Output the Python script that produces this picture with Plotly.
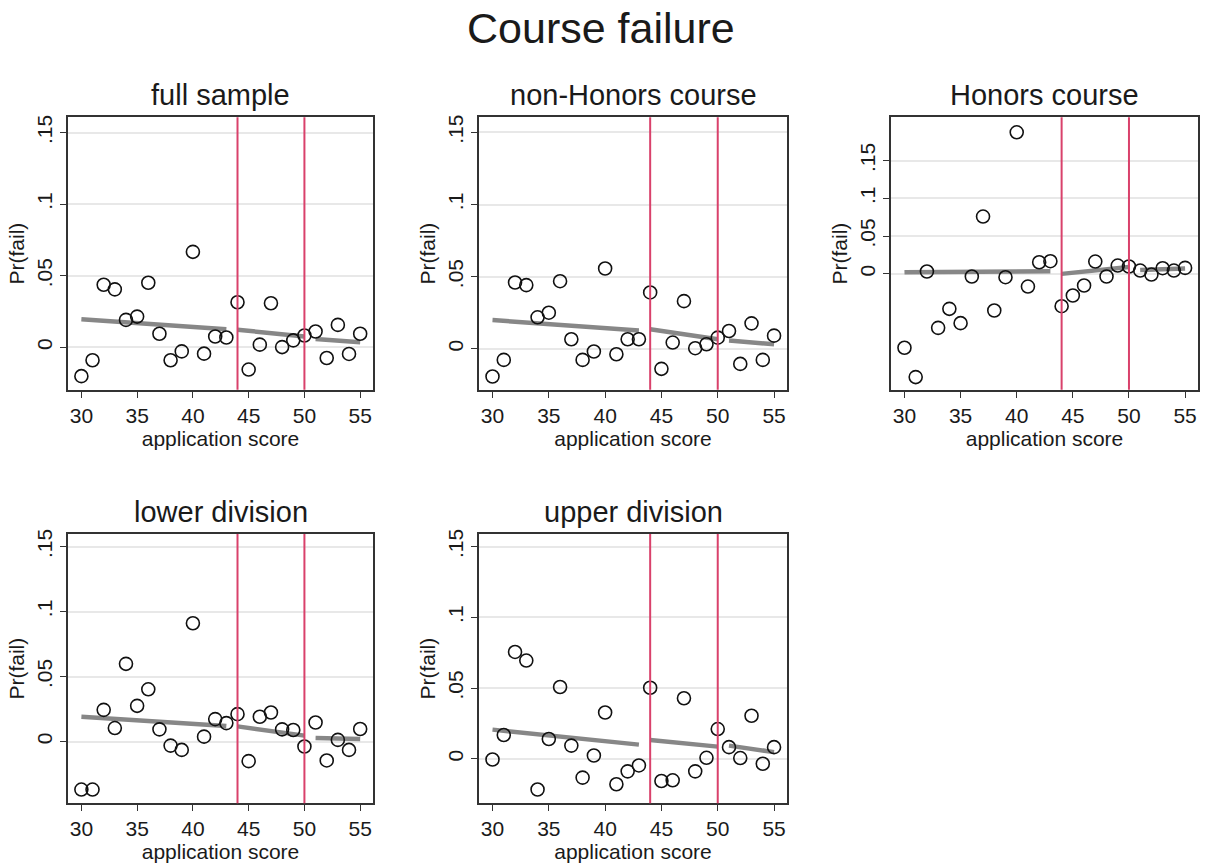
import plotly.graph_objects as go
from plotly.subplots import make_subplots

# ---------------- data ----------------
scores = list(range(30, 56))
cutoffs = [44, 50]

full_sample = [-0.0201, -0.0090, 0.0437, 0.0405, 0.0192, 0.0215, 0.0451, 0.0095, -0.0090, -0.0028,
               0.0667, -0.0044, 0.0076, 0.0069, 0.0315, -0.0155, 0.0019, 0.0308, 0.0002, 0.0049,
               0.0083, 0.0111, -0.0074, 0.0157, -0.0046, 0.0095]
non_honors = [-0.0191, -0.0076, 0.0460, 0.0442, 0.0219, 0.0251, 0.0469, 0.0067, -0.0076, -0.0018,
              0.0557, -0.0037, 0.0067, 0.0067, 0.0391, -0.0138, 0.0044, 0.0331, 0.0005, 0.0032,
              0.0078, 0.0124, -0.0104, 0.0177, -0.0076, 0.0092]
honors = [-0.0979, -0.1367, 0.0031, -0.0715, -0.0463, -0.0653, -0.0035, 0.0759, -0.0485, -0.0044,
          0.1875, -0.0168, 0.0154, 0.0168, -0.0428, -0.0287, -0.0154, 0.0163, -0.0035, 0.0110,
          0.0097, 0.0044, -0.0009, 0.0075, 0.0044, 0.0079]
lower_div = [-0.0369, -0.0369, 0.0244, 0.0104, 0.0598, 0.0275, 0.0402, 0.0094, -0.0031, -0.0064,
             0.0910, 0.0038, 0.0173, 0.0142, 0.0211, -0.0150, 0.0191, 0.0224, 0.0094, 0.0089,
             -0.0038, 0.0147, -0.0145, 0.0013, -0.0064, 0.0097]
upper_div = [-0.0005, 0.0168, 0.0755, 0.0694, -0.0217, 0.0140, 0.0507, 0.0093, -0.0133, 0.0023,
             0.0327, -0.0180, -0.0089, -0.0047, 0.0502, -0.0157, -0.0152, 0.0428, -0.0089, 0.0007,
             0.0210, 0.0082, 0.0005, 0.0304, -0.0035, 0.0082]

# fitted line segments: x endpoints and fitted values at endpoints
fit_segments_x = [[30, 43], [44, 50], [51, 55]]
fit_full = [[0.0197, 0.0127], [0.0123, 0.0076], [0.0058, 0.0035]]
fit_non_honors = [[0.0200, 0.0127], [0.0136, 0.0067], [0.0058, 0.0032]]
fit_honors = [[0.0022, 0.0035], [0.0000, 0.0090], [0.0050, 0.0070]]
fit_lower = [[0.0191, 0.0120], [0.0117, 0.0046], [0.0028, 0.0020]]
fit_upper = [[0.0206, 0.0100], [0.0133, 0.0086], [0.0093, 0.0047]]

panel_titles = ["full sample", "non-Honors course", "Honors course", "lower division", "upper division"]
y_tickvals = [0, 0.05, 0.1, 0.15]
y_ticktext = ["0", ".05", ".1", ".15"]
x_tickvals = [30, 35, 40, 45, 50, 55]

# ---------------- figure ----------------
W, H = 1206, 865
fig = make_subplots(rows=2, cols=3)

panels = [
    (1, 1, full_sample, fit_full, (68, 373, 113, 387), [-0.0296, 0.1606]),
    (1, 2, non_honors, fit_non_honors, (479, 787, 113, 387), [-0.0283, 0.1604]),
    (1, 3, honors, fit_honors, (891, 1198, 113, 387), [-0.1535, 0.2073]),
    (2, 1, lower_div, fit_lower, (68, 373, 532, 803), [-0.0475, 0.1597]),
    (2, 2, upper_div, fit_upper, (479, 787, 532, 803), [-0.0315, 0.1589]),
]


def px(x):
    return x / W


def py(y):
    return 1 - y / H


FONT = "Liberation Sans, Arial, sans-serif"
RED = "#d9416b"
GREY = "#878787"
TXT = "#1a1a1a"

for i, (r, c, vals, fits, box, yr) in enumerate(panels):
    x0, x1, y0, y1 = box
    xa = "xaxis" if (r, c) == (1, 1) else f"xaxis{(r - 1) * 3 + c}"
    ya = "yaxis" if (r, c) == (1, 1) else f"yaxis{(r - 1) * 3 + c}"
    for sx, sy in zip(fit_segments_x, fits):
        fig.add_trace(go.Scatter(x=sx, y=sy, mode="lines",
                                 line=dict(color=GREY, width=4.5),
                                 showlegend=False, hoverinfo="skip"), row=r, col=c)
    for cx in cutoffs:
        fig.add_vline(x=cx, line=dict(color=RED, width=2), row=r, col=c)
    fig.add_trace(go.Scatter(x=scores, y=vals, mode="markers",
                             marker=dict(symbol="circle-open", size=13, color="#111111",
                                         line=dict(width=1.6, color="#111111")),
                             showlegend=False), row=r, col=c)
    fig.layout[xa].update(domain=[px(x0), px(x1)], range=[28.8, 56.15],
                          tickvals=x_tickvals, ticks="outside", ticklen=6, tickwidth=1.2,
                          tickcolor="#333", showgrid=False, zeroline=False,
                          showline=True, linecolor="#333", linewidth=1.5, mirror=True,
                          tickfont=dict(family=FONT, size=21, color=TXT),
                          title=dict(text="application score", standoff=0,
                                     font=dict(family=FONT, size=21, color=TXT)))
    fig.layout[ya].update(domain=[py(y1), py(y0)], range=yr,
                          tickvals=y_tickvals, ticktext=y_ticktext, tickangle=-90,
                          ticks="outside", ticklen=6, tickwidth=1.2, tickcolor="#333",
                          showgrid=True, gridcolor="#e8e8e8", gridwidth=1.5, zeroline=False,
                          showline=True, linecolor="#333", linewidth=1.5, mirror=True,
                          tickfont=dict(family=FONT, size=21, color=TXT),
                          title=dict(text="Pr(fail)", standoff=2,
                                     font=dict(family=FONT, size=21, color=TXT)))
    fig.add_annotation(text=panel_titles[i], xref="paper", yref="paper",
                       x=px((x0 + x1) / 2), y=py(y0 - 22), showarrow=False,
                       yanchor="middle", xanchor="center",
                       font=dict(family=FONT, size=29, color=TXT))

fig.layout["xaxis6"].update(visible=False)
fig.layout["yaxis6"].update(visible=False)

fig.add_annotation(text="Course failure", xref="paper", yref="paper", x=px(601), y=py(23),
                   showarrow=False, yanchor="middle", borderpad=0,
                   font=dict(family=FONT, size=43, color=TXT))

fig.update_layout(width=W, height=H, margin=dict(l=0, r=0, t=0, b=0),
                  paper_bgcolor="white", plot_bgcolor="white")

fig.write_html("out.html", config={"displayModeBar": False},
               post_script="document.body.style.margin='0';document.body.style.padding='0';")
